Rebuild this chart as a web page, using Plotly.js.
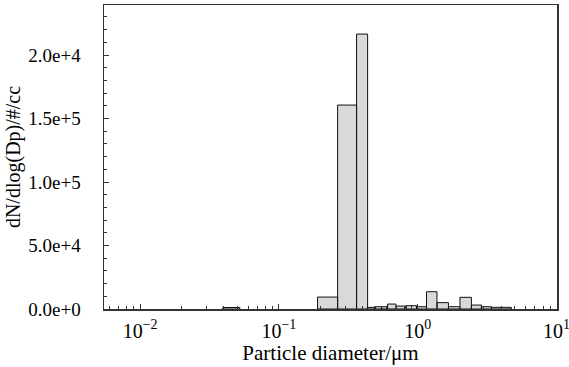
<!DOCTYPE html>
<html>
<head>
<meta charset="utf-8">
<script src="https://cdn.plot.ly/plotly-3.0.1.min.js"></script>
<style>html,body{margin:0;padding:0;background:#fff;}#chart{width:569px;height:367px;}</style>
</head>
<body>
<div id="chart"></div>
<script>
// Bin edges (µm) and dN/dlog(Dp) values
const binLower = [0.0394, 0.190, 0.265, 0.363, 0.436, 0.489, 0.550, 0.607, 0.699, 0.825, 0.981, 1.158, 1.378, 1.667, 2.017, 2.440, 2.880, 3.399, 4.011];
const binUpper = [0.0523, 0.265, 0.363, 0.436, 0.489, 0.550, 0.607, 0.699, 0.825, 0.981, 1.158, 1.378, 1.667, 2.017, 2.440, 2.880, 3.399, 4.011, 4.734];
const counts   = [1200, 9400, 160600, 216500, 1300, 1800, 1800, 3900, 2300, 2600, 1800, 13600, 5000, 1800, 9200, 3100, 1800, 1300, 1300];

const xTickVals = [0.01, 0.1, 1, 10];
const xTickText = ['10<sup>−2</sup>', '10<sup>−1</sup>', '10<sup>0</sup>', '10<sup>1</sup>'];
const yTickVals = [0, 50000, 100000, 150000, 200000];
const yTickText = ['0.0e+0', '5.0e+4', '1.0e+5', '1.5e+5', '2.0e+4'];

// build closed bar outlines from the bins
const px = [], py = [];
for (let i = 0; i < counts.length; i++) {
  px.push(binLower[i], binLower[i], binUpper[i], binUpper[i], binLower[i], null);
  py.push(0, counts[i], counts[i], 0, 0, null);
}

const trace = {
  x: px, y: py, type: 'scatter', mode: 'lines',
  fill: 'toself', fillcolor: '#d9d9d9',
  line: {color: '#111', width: 1}, hoverinfo: 'skip', showlegend: false
};

const font = {family: '"Liberation Serif", "Times New Roman", serif', color: '#000'};
const layout = {
  width: 569, height: 367,
  margin: {l: 104, r: 12, t: 5, b: 58},
  paper_bgcolor: '#fff', plot_bgcolor: '#fff',
  showlegend: false,
  font: Object.assign({size: 19}, font),
  xaxis: {
    type: 'log', range: [-2.26, 1.004],
    tickvals: xTickVals, ticktext: xTickText,
    ticks: 'inside', ticklen: 5, tickcolor: '#333', tickwidth: 1,
    minor: {ticks: 'inside', ticklen: 3, tickcolor: '#333', dtick: 'D1', showgrid: false},
    showline: true, linecolor: '#333', linewidth: 1.5, mirror: true,
    showgrid: false, zeroline: false,
    tickfont: Object.assign({size: 20}, font),
    ticklabelstandoff: 3,
    ticklabeloverflow: 'allow',
    title: {text: 'Particle diameter/μm', font: Object.assign({size: 21}, font), standoff: 0},
    automargin: false
  },
  yaxis: {
    range: [0, 239400],
    tickvals: yTickVals, ticktext: yTickText,
    ticks: 'inside', ticklen: 5, tickcolor: '#333', tickwidth: 1,
    minor: {ticks: 'inside', ticklen: 3, tickcolor: '#333', dtick: 10000, showgrid: false},
    showline: true, linecolor: '#333', linewidth: 1.5, mirror: true,
    showgrid: false, zeroline: false,
    tickfont: Object.assign({size: 19}, font),
    ticklabelstandoff: 18,
    title: {text: 'dN/dlog(Dp)/#/cc', font: Object.assign({size: 20}, font), standoff: 2},
    automargin: false
  }
};

Plotly.newPlot('chart', [trace], layout, {staticPlot: true, displayModeBar: false});
</script>
</body>
</html>
